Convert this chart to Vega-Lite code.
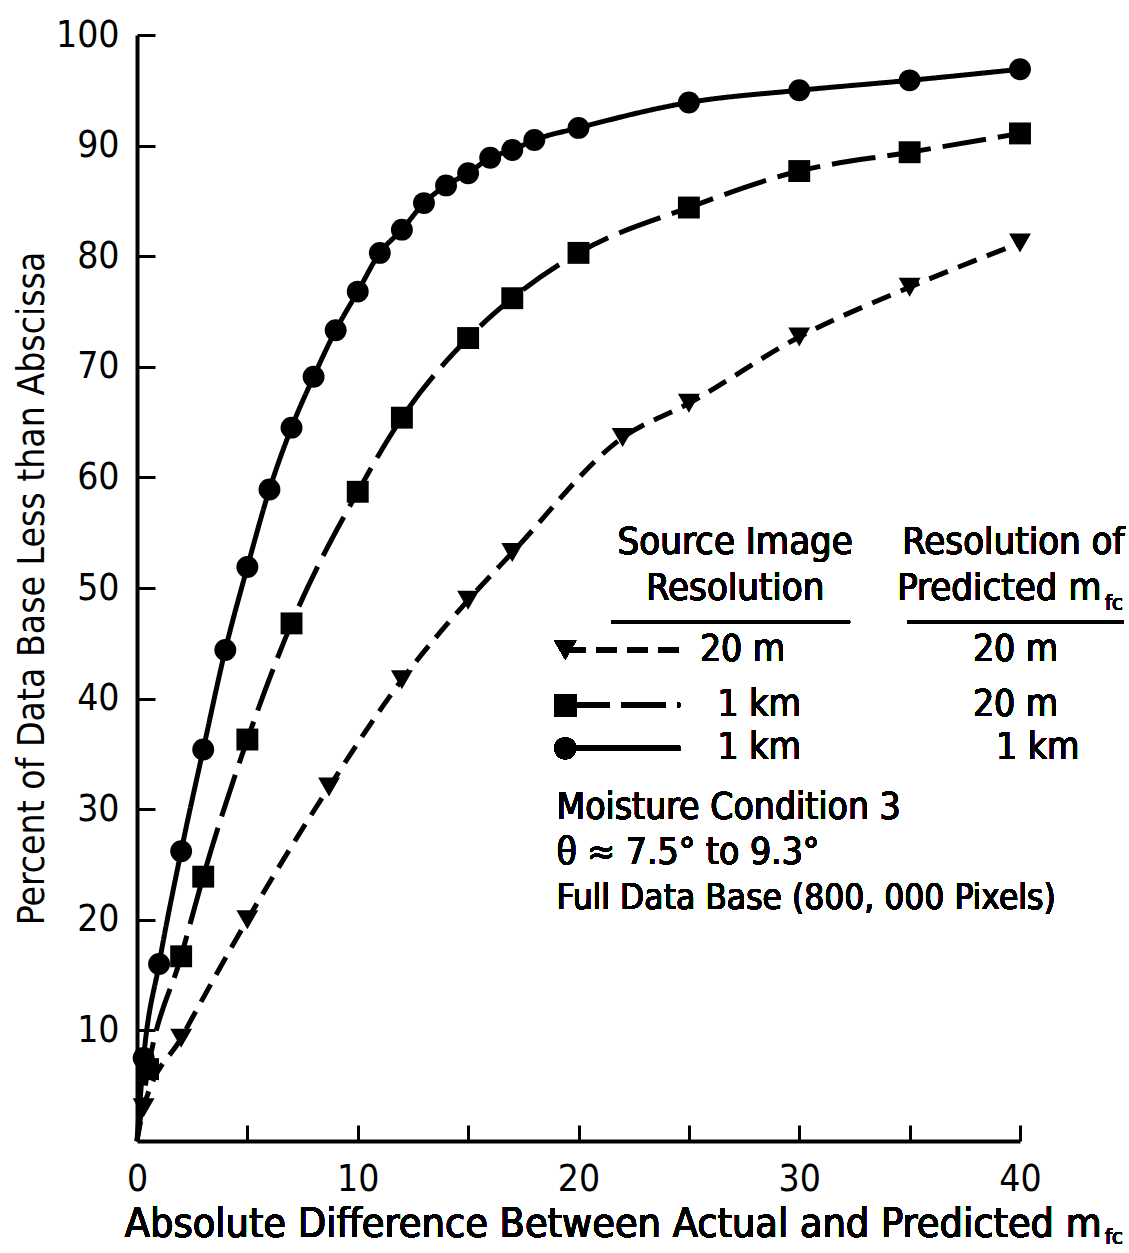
{
  "$schema": "https://vega.github.io/schema/vega-lite/v6.json",
  "autosize": {"type": "none"},
  "width": 883,
  "height": 1106,
  "padding": {"left": 137, "top": 35, "right": 109, "bottom": 112},
  "background": "white",
  "config": {
    "font": "DejaVu Sans Condensed, Liberation Sans Narrow, sans-serif",
    "view": {"stroke": null},
    "axis": {"grid": false, "domainColor": "black", "domainWidth": 4, "tickColor": "black", "tickWidth": 3, "labelColor": "black", "titleColor": "black", "labelFont": "DejaVu Sans Condensed, Liberation Sans Narrow, sans-serif", "titleFont": "DejaVu Sans Condensed, Liberation Sans Narrow, sans-serif", "titleFontWeight": "normal"}
  },
  "data": {
    "values": [
      {"series": "A", "x": 0, "y": 0},
      {"series": "A", "x": 0.3, "y": 3},
      {"series": "A", "x": 2, "y": 9.3},
      {"series": "A", "x": 5, "y": 20},
      {"series": "A", "x": 8.7, "y": 32},
      {"series": "A", "x": 12, "y": 41.7},
      {"series": "A", "x": 15, "y": 48.9},
      {"series": "A", "x": 17, "y": 53.2},
      {"series": "A", "x": 22, "y": 63.6},
      {"series": "A", "x": 25, "y": 66.7},
      {"series": "A", "x": 30, "y": 72.7},
      {"series": "A", "x": 35, "y": 77.2},
      {"series": "A", "x": 40, "y": 81.2},
      {"series": "B", "x": 0, "y": 0},
      {"series": "B", "x": 0.5, "y": 6.5},
      {"series": "B", "x": 2, "y": 16.7},
      {"series": "B", "x": 3, "y": 23.9},
      {"series": "B", "x": 5, "y": 36.3},
      {"series": "B", "x": 7, "y": 46.8},
      {"series": "B", "x": 10, "y": 58.7},
      {"series": "B", "x": 12, "y": 65.4},
      {"series": "B", "x": 15, "y": 72.6},
      {"series": "B", "x": 17, "y": 76.2},
      {"series": "B", "x": 20, "y": 80.3},
      {"series": "B", "x": 25, "y": 84.4},
      {"series": "B", "x": 30, "y": 87.7},
      {"series": "B", "x": 35, "y": 89.4},
      {"series": "B", "x": 40, "y": 91.1},
      {"series": "C", "x": 0, "y": 0},
      {"series": "C", "x": 0.3, "y": 7.5},
      {"series": "C", "x": 1, "y": 16},
      {"series": "C", "x": 2, "y": 26.2},
      {"series": "C", "x": 3, "y": 35.4},
      {"series": "C", "x": 4, "y": 44.4},
      {"series": "C", "x": 5, "y": 51.9},
      {"series": "C", "x": 6, "y": 58.9},
      {"series": "C", "x": 7, "y": 64.5},
      {"series": "C", "x": 8, "y": 69.1},
      {"series": "C", "x": 9, "y": 73.3},
      {"series": "C", "x": 10, "y": 76.8},
      {"series": "C", "x": 11, "y": 80.3},
      {"series": "C", "x": 12, "y": 82.4},
      {"series": "C", "x": 13, "y": 84.8},
      {"series": "C", "x": 14, "y": 86.4},
      {"series": "C", "x": 15, "y": 87.5},
      {"series": "C", "x": 16, "y": 88.9},
      {"series": "C", "x": 17, "y": 89.6},
      {"series": "C", "x": 18, "y": 90.5},
      {"series": "C", "x": 20, "y": 91.6},
      {"series": "C", "x": 25, "y": 93.9},
      {"series": "C", "x": 30, "y": 95.0},
      {"series": "C", "x": 35, "y": 95.9},
      {"series": "C", "x": 40, "y": 96.9}
    ]
  },
  "layer": [
    {
      "mark": {"type": "line", "color": "black", "strokeWidth": 5, "interpolate": "monotone"},
      "encoding": {
        "x": {"field": "x", "type": "quantitative", "scale": {"domain": [0, 40], "nice": false},
          "axis": {"values": [0, 5, 10, 15, 20, 25, 30, 35, 40], "labelExpr": "datum.value % 10 === 0 ? datum.label : ''", "title": null, "tickSize": -16, "labelPadding": 36, "labelFontSize": 37, "labelFlush": false}},
        "y": {"field": "y", "type": "quantitative", "scale": {"domain": [0, 100], "nice": false},
          "axis": {"values": [10, 20, 30, 40, 50, 60, 70, 80, 90, 100], "title": "Percent of Data Base Less than Abscissa", "titleFontSize": 37, "titlePadding": 4, "tickSize": -18, "labelPadding": 36, "labelFontSize": 37, "labelFlush": false}},
        "strokeDash": {"field": "series", "type": "nominal", "scale": {"domain": ["A", "B", "C"], "range": [[20, 11], [44, 12], [1, 0]]}, "legend": null},
        "detail": {"field": "series"}
      }
    },
    {
      "transform": [{"filter": "datum.x > 0"}],
      "mark": {"type": "point", "filled": true, "color": "black", "opacity": 1, "size": 480},
      "encoding": {
        "x": {"field": "x", "type": "quantitative"},
        "y": {"field": "y", "type": "quantitative"},
        "shape": {"field": "series", "type": "nominal", "scale": {"domain": ["A", "B", "C"], "range": ["triangle-down", "square", "circle"]}, "legend": null}
      }
    },
    {"mark": {"type": "text", "text": "Absolute Difference Between Actual and Predicted m", "fontSize": 41, "align": "right", "baseline": "alphabetic", "color": "black"},
     "encoding": {"x": {"datum": 43.7}, "y": {"datum": -8.7}}},
    {"mark": {"type": "text", "text": "fc", "fontSize": 22, "align": "left", "baseline": "alphabetic", "color": "black"},
     "encoding": {"x": {"datum": 43.85}, "y": {"datum": -9.3}}},
    {"mark": {"type": "text", "text": "Source Image", "fontSize": 38, "align": "center", "baseline": "middle", "color": "black"},
     "encoding": {"x": {"datum": 27.1}, "y": {"datum": 54.1}}},
    {"mark": {"type": "text", "text": "Resolution", "fontSize": 38, "align": "center", "baseline": "middle", "color": "black"},
     "encoding": {"x": {"datum": 27.1}, "y": {"datum": 49.9}}},
    {"mark": {"type": "text", "text": "Resolution of", "fontSize": 38, "align": "center", "baseline": "middle", "color": "black"},
     "encoding": {"x": {"datum": 39.7}, "y": {"datum": 54.1}}},
    {"mark": {"type": "text", "text": "Predicted m", "fontSize": 38, "align": "right", "baseline": "middle", "color": "black"},
     "encoding": {"x": {"datum": 43.7}, "y": {"datum": 49.9}}},
    {"mark": {"type": "text", "text": "fc", "fontSize": 22, "align": "left", "baseline": "middle", "color": "black"},
     "encoding": {"x": {"datum": 43.85}, "y": {"datum": 48.6}}},
    {"mark": {"type": "rule", "color": "black", "strokeWidth": 3},
     "encoding": {"x": {"datum": 21.5}, "x2": {"datum": 32.3}, "y": {"datum": 46.9}}},
    {"mark": {"type": "rule", "color": "black", "strokeWidth": 3},
     "encoding": {"x": {"datum": 34.9}, "x2": {"datum": 44.7}, "y": {"datum": 46.9}}},
    {"mark": {"type": "rule", "color": "black", "strokeWidth": 5, "strokeDash": [20, 11]},
     "encoding": {"x": {"datum": 19.4}, "x2": {"datum": 25.0}, "y": {"datum": 44.4}}},
    {"mark": {"type": "rule", "color": "black", "strokeWidth": 5, "strokeDash": [44, 12]},
     "encoding": {"x": {"datum": 19.4}, "x2": {"datum": 24.6}, "y": {"datum": 39.4}}},
    {"mark": {"type": "rule", "color": "black", "strokeWidth": 5},
     "encoding": {"x": {"datum": 19.4}, "x2": {"datum": 24.6}, "y": {"datum": 35.5}}},
    {"mark": {"type": "point", "shape": "triangle-down", "filled": true, "color": "black", "opacity": 1, "size": 480},
     "encoding": {"x": {"datum": 19.4}, "y": {"datum": 44.4}}},
    {"mark": {"type": "point", "shape": "square", "filled": true, "color": "black", "opacity": 1, "size": 480},
     "encoding": {"x": {"datum": 19.4}, "y": {"datum": 39.4}}},
    {"mark": {"type": "point", "shape": "circle", "filled": true, "color": "black", "opacity": 1, "size": 480},
     "encoding": {"x": {"datum": 19.4}, "y": {"datum": 35.5}}},
    {"mark": {"type": "text", "text": "20 m", "fontSize": 37, "align": "left", "baseline": "middle", "color": "black"},
     "encoding": {"x": {"datum": 25.5}, "y": {"datum": 44.4}}},
    {"mark": {"type": "text", "text": "1 km", "fontSize": 37, "align": "left", "baseline": "middle", "color": "black"},
     "encoding": {"x": {"datum": 26.3}, "y": {"datum": 39.4}}},
    {"mark": {"type": "text", "text": "1 km", "fontSize": 37, "align": "left", "baseline": "middle", "color": "black"},
     "encoding": {"x": {"datum": 26.3}, "y": {"datum": 35.5}}},
    {"mark": {"type": "text", "text": "20 m", "fontSize": 37, "align": "center", "baseline": "middle", "color": "black"},
     "encoding": {"x": {"datum": 39.8}, "y": {"datum": 44.4}}},
    {"mark": {"type": "text", "text": "20 m", "fontSize": 37, "align": "center", "baseline": "middle", "color": "black"},
     "encoding": {"x": {"datum": 39.8}, "y": {"datum": 39.4}}},
    {"mark": {"type": "text", "text": "1 km", "fontSize": 37, "align": "center", "baseline": "middle", "color": "black"},
     "encoding": {"x": {"datum": 40.8}, "y": {"datum": 35.5}}},
    {"mark": {"type": "text", "text": "Moisture Condition 3", "fontSize": 37, "align": "left", "baseline": "middle", "color": "black"},
     "encoding": {"x": {"datum": 19.0}, "y": {"datum": 30.1}}},
    {"mark": {"type": "text", "text": "θ ≈ 7.5° to 9.3°", "fontSize": 37, "align": "left", "baseline": "middle", "color": "black"},
     "encoding": {"x": {"datum": 19.0}, "y": {"datum": 26.0}}},
    {"mark": {"type": "text", "text": "Full Data Base (800, 000 Pixels)", "fontSize": 35, "align": "left", "baseline": "middle", "color": "black"},
     "encoding": {"x": {"datum": 19.0}, "y": {"datum": 22.0}}}
  ]
}
